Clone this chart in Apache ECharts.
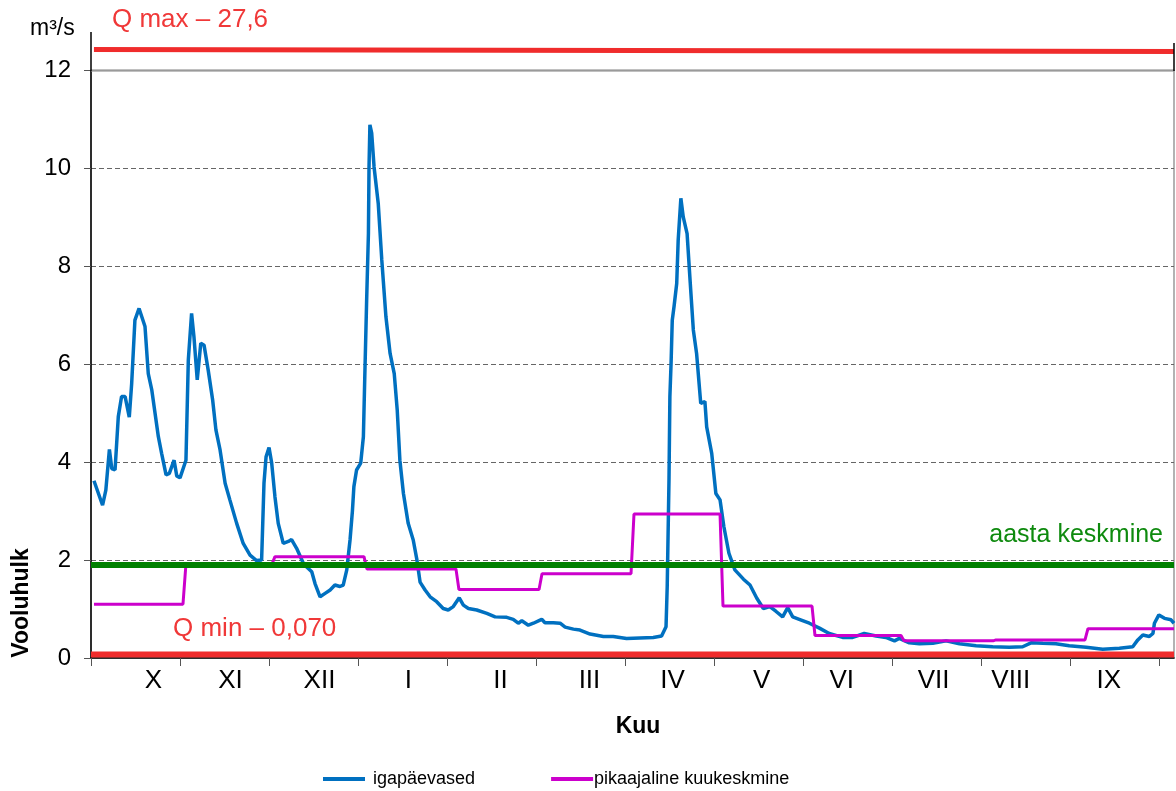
<!DOCTYPE html>
<html>
<head>
<meta charset="utf-8">
<script src="https://cdn.jsdelivr.net/npm/echarts@6/dist/echarts.min.js"></script>
<style>
html,body{margin:0;padding:0;background:#fff;}
#c{width:1176px;height:791px;}
</style>
</head>
<body>
<div id="c"></div>
<script>
// ---- data ----
const months = ['X','XI','XII','I','II','III','IV','V','VI','VII','VIII','IX'];
const monthLabelDays = [21,47,77,107,138,168,196,226,253,284,310,343];
const tickDays = [0,30,60,90,120,150,180,210,240,270,300,330,360];
const monthLengths = [31,30,31,31,28,31,30,31,30,31,31,30];
const monthlyMean = [1.10,1.92,2.07,1.82,1.40,1.72,2.94,1.06,0.46,0.35,0.37,0.60];
const annualMean = 1.90;
const qMin = 0.07;
const qMaxDrawn = [12.43,12.39];
const dailyFlow = [
[1,3.62],[3.9,3.12],[5,3.43],[6.2,4.26],[7,3.87],[8.1,3.84],[9.2,4.93],[10.3,5.34],[11.5,5.34],[12.9,4.92],
[13.7,5.6],[14.8,6.9],[16.2,7.14],[18.2,6.77],[19.3,5.81],[20.5,5.47],[22.7,4.52],[23.8,4.18],[25.3,3.74],[26.4,3.77],
[28,4.04],[28.9,3.72],[30,3.68],[32,4.04],[32.8,6.09],[33.9,7.04],[34.7,6.56],[35.8,5.68],[37,6.43],[38.1,6.39],
[39.5,5.88],[41,5.27],[42.1,4.66],[43.5,4.25],[45.2,3.57],[46.8,3.23],[49.1,2.75],[51.3,2.34],[53.6,2.1],[55.8,1.99],
[57.5,2.0],[58.3,3.57],[59,4.11],[60,4.3],[60.9,3.98],[62,3.29],[63.1,2.75],[64.8,2.34],[66.5,2.38],[67.6,2.42],
[69.3,2.24],[71.6,1.93],[72.7,1.86],[74.4,1.76],[75.5,1.52],[77.2,1.25],[78.9,1.32],[80.6,1.39],[82.2,1.49],[83.9,1.46],
[85,1.49],[86.2,1.8],[87.3,2.41],[88.1,3.0],[88.6,3.5],[89.5,3.84],[90.9,3.98],[91.8,4.52],[92.3,5.81],[92.9,7.31],
[93.5,8.67],[93.7,10.03],[94,10.89],[94.6,10.72],[95.4,10.03],[96.8,9.29],[98,8.13],[99.4,6.97],[100.8,6.22],[102.2,5.81],
[103.2,5.07],[104.1,4.04],[105.3,3.36],[106.9,2.75],[108.6,2.41],[109.8,2.02],[110.9,1.55],[112.6,1.39],[114.3,1.25],[116.5,1.15],
[118.7,1.01],[120.4,0.98],[122.1,1.05],[124.1,1.23],[125.5,1.08],[127.2,1.01],[130,0.98],[133.4,0.91],[136.2,0.84],[140.1,0.83],
[142.3,0.79],[144,0.71],[145.2,0.76],[147.4,0.67],[149.1,0.71],[151.9,0.79],[153,0.72],[155.8,0.72],[158.1,0.71],[159.8,0.63],
[162.6,0.59],[164.8,0.57],[168.2,0.49],[172.7,0.44],[176,0.44],[180.5,0.4],[185,0.41],[189.5,0.42],[192.3,0.45],[193.8,0.64],
[194.2,1.46],[194.8,3.64],[195.1,5.34],[195.5,6.02],[195.9,6.9],[196.5,7.18],[197.4,7.65],[197.9,8.54],[198.8,9.39],[199.6,9.01],
[200.9,8.67],[201.9,7.72],[203,6.7],[204.1,6.22],[205.5,5.2],[206.9,5.24],[207.5,4.72],[209.2,4.18],[210.6,3.36],[212,3.23],
[213.3,2.68],[215,2.14],[217,1.8],[219.9,1.61],[222.1,1.49],[224.4,1.22],[226.6,1.01],[228.8,1.05],[230.9,0.95],[233.1,0.84],
[234.8,1.03],[236.5,0.84],[238.7,0.79],[242.1,0.71],[245.5,0.61],[248.8,0.5],[253.3,0.42],[256.7,0.42],[260.6,0.5],[264.6,0.45],
[267.9,0.42],[270.8,0.35],[272.4,0.4],[275.8,0.31],[279.2,0.29],[283.7,0.3],[288.2,0.35],[292.7,0.29],[298.3,0.25],[303.9,0.23],
[309.5,0.22],[314,0.23],[316.8,0.31],[320.8,0.3],[325.2,0.29],[329.7,0.25],[335.4,0.22],[341,0.18],[346.6,0.2],[351.1,0.23],
[352.8,0.37],[354.5,0.47],[356.7,0.44],[357.9,0.5],[358.4,0.71],[359.9,0.88],[361.8,0.81],[364,0.78],[365,0.71]
];

// ---- build monthly step line ----
const monthlySteps = [];
let start = 0;
monthLengths.forEach((len, i) => {
  monthlySteps.push([start + 1, monthlyMean[i]]);
  monthlySteps.push([start + len, monthlyMean[i]]);
  start += len;
});
const totalDays = start;

const FONT = 'Liberation Sans, Arial, sans-serif';
const chart = echarts.init(document.getElementById('c'), null, {renderer: 'canvas'});

const option = {
  animation: false,
  backgroundColor: '#fff',
  grid: {
    left: 91, right: 2, top: 70.5, bottom: 133,
    show: true, borderColor: '#9a9a9a', borderWidth: 1.5, backgroundColor: 'transparent'
  },
  xAxis: {
    type: 'value', min: 0, max: totalDays,
    axisLine: {show: true, onZero: false, lineStyle: {color: '#000', width: 1.5}},
    axisTick: {show: true, customValues: tickDays, length: 8, lineStyle: {color: '#555', width: 1}},
    axisLabel: {
      show: true, customValues: monthLabelDays, margin: 10,
      fontSize: 26, color: '#000', fontFamily: FONT,
      formatter: v => months[monthLabelDays.indexOf(v)] || ''
    },
    splitLine: {show: false}
  },
  yAxis: {
    type: 'value', min: 0, max: 12, interval: 2,
    axisLine: {show: true, lineStyle: {color: '#000', width: 1.5}},
    axisTick: {show: true, length: 7, lineStyle: {color: '#555', width: 1}},
    axisLabel: {fontSize: 24, color: '#000', margin: 20, fontFamily: FONT},
    splitLine: {show: true, showMaxLine: false, showMinLine: false, lineStyle: {color: '#666', type: [5, 3], width: 1}}
  },
  legend: {
    data: [
      {name: 'igapäevased', icon: 'rect'},
      {name: 'pikaajaline kuukeskmine', icon: 'rect', textStyle: {padding: [0, 0, 0, -4]}}
    ],
    left: 318, top: 765, itemWidth: 42, itemHeight: 4, itemGap: 76,
    textStyle: {fontSize: 18, color: '#000', fontFamily: FONT, padding: [0, 0, 0, 3]}
  },
  series: [
    {
      name: 'igapäevased', type: 'line', data: dailyFlow, symbol: 'none',
      lineStyle: {color: '#0070c0', width: 3.5}, itemStyle: {color: '#0070c0'}, z: 2
    },
    {
      name: 'pikaajaline kuukeskmine', type: 'line', data: monthlySteps, symbol: 'none',
      lineStyle: {color: '#cc00cc', width: 3}, itemStyle: {color: '#cc00cc'}, z: 3
    },
    {
      name: 'aasta keskmine', type: 'line', data: [[0, annualMean], [totalDays, annualMean]], symbol: 'none',
      lineStyle: {color: '#008000', width: 6}, z: 4
    },
    {
      name: 'Q min', type: 'line', data: [[0, qMin], [totalDays, qMin]], symbol: 'none',
      lineStyle: {color: '#f02c2c', width: 6}, z: 5
    },
    {
      name: 'Q max', type: 'line', data: [[1, qMaxDrawn[0]], [totalDays, qMaxDrawn[1]]], symbol: 'none',
      clip: false, lineStyle: {color: '#f02c2c', width: 5}, z: 5
    }
  ],
  graphic: [
    {type: 'line', shape: {x1: 91, y1: 32, x2: 91, y2: 71}, style: {stroke: '#000', lineWidth: 1.5}, z: 10},
    {type: 'line', shape: {x1: 1174, y1: 43, x2: 1174, y2: 71}, style: {stroke: '#000', lineWidth: 1.5}, z: 10},
    {type: 'line', shape: {x1: 91, y1: 70.5, x2: 1174, y2: 70.5}, style: {stroke: '#9a9a9a', lineWidth: 2}, z: 1},
    {type: 'text', x: 30, y: 29, style: {text: 'm³/s', fontSize: 23, fill: '#000', fontFamily: FONT, verticalAlign: 'middle'}},
    {type: 'text', x: 112, y: 20, style: {text: 'Q max – 27,6', fontSize: 26, fill: '#f03838', fontFamily: FONT, verticalAlign: 'middle'}},
    {type: 'text', x: 173, y: 629, style: {text: 'Q min – 0,070', fontSize: 26, fill: '#f03838', fontFamily: FONT, verticalAlign: 'middle'}},
    {type: 'text', x: 1163, y: 535, style: {text: 'aasta keskmine', fontSize: 25, fill: '#0e8a0e', fontFamily: FONT, align: 'right', verticalAlign: 'middle'}},
    {type: 'text', x: 638, y: 727, style: {text: 'Kuu', fontSize: 23, fontWeight: 'bold', fill: '#000', fontFamily: FONT, align: 'center', verticalAlign: 'middle'}},
    {type: 'text', x: 22, y: 603, rotation: Math.PI / 2, style: {text: 'Vooluhulk', fontSize: 23, fontWeight: 'bold', fill: '#000', fontFamily: FONT, align: 'center', verticalAlign: 'middle'}}
  ]
};
chart.setOption(option);
</script>
</body>
</html>
